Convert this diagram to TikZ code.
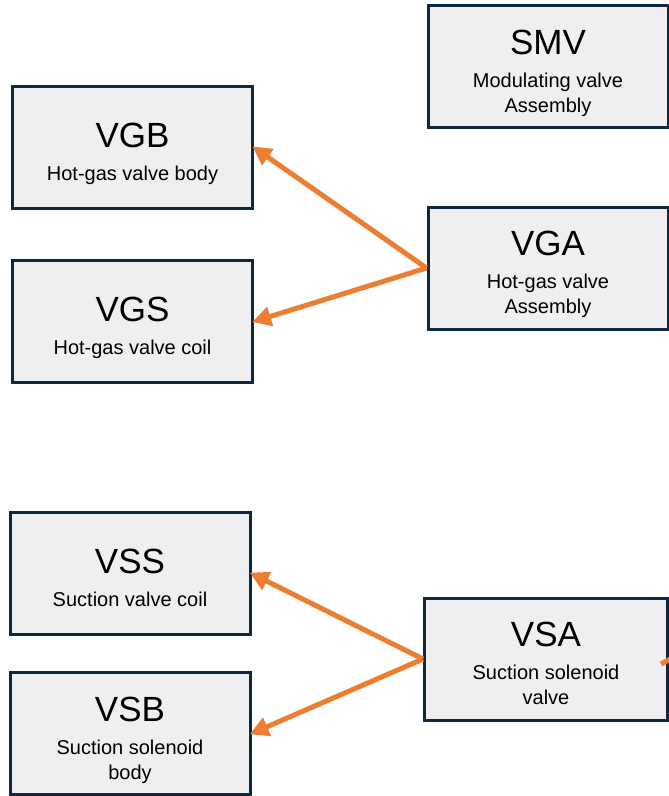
\documentclass[tikz,border=0pt]{standalone}
\usepackage{fontspec}
\setmainfont{Liberation Sans}
\usetikzlibrary{arrows.meta}
\definecolor{boxline}{HTML}{0F2740}
\definecolor{boxfill}{HTML}{EFEFEF}
\definecolor{arrowc}{HTML}{ED7D31}
\tikzset{
  box/.style={draw=boxline, fill=boxfill, line width=3pt, minimum width=240pt, minimum height=122pt, inner sep=0pt},
  lbl/.style={align=center, inner sep=0pt, text depth=5pt, font=\fontsize{20}{25}\selectfont},
  conn/.style={draw=arrowc, line width=5pt, -{Triangle[length=19pt,width=19pt]}, shorten >=-2pt},
  stub/.style={draw=arrowc, line width=5pt}
}
\newcommand{\ttl}[1]{{\fontsize{35}{38}\selectfont #1}\\[8pt]}
\begin{document}
\begin{tikzpicture}[x=1pt,y=-1pt]
\useasboundingbox (0,0) rectangle (669,796);
\node[box] (SMV) at (548,66.5) {};
\node[box] (VGB) at (132.5,147.5) {};
\node[box] (VGA) at (548,268) {};
\node[box] (VGS) at (132.5,321.5) {};
\node[box] (VSS) at (130,573.5) {};
\node[box, minimum width=243pt] (VSA) at (546,659) {};
\node[box] (VSB) at (130,733.5) {};
\node[lbl] (SMVt) at ([yshift=-7pt]SMV.center) {\ttl{SMV}Modulating valve\\Assembly};
\node[lbl] (VGBt) at ([yshift=-7pt]VGB.center) {\ttl{VGB}Hot-gas valve body};
\node[lbl] (VGAt) at ([yshift=-7pt]VGA.center) {\ttl{VGA}Hot-gas valve\\Assembly};
\node[lbl] (VGSt) at ([yshift=-7pt]VGS.center) {\ttl{VGS}Hot-gas valve coil};
\node[lbl] (VSSt) at ([yshift=-7pt]VSS.center) {\ttl{VSS}Suction valve coil};
\node[lbl] (VSAt) at ([yshift=-7pt]VSA.center) {\ttl{VSA}Suction solenoid\\valve};
\node[lbl] (VSBt) at ([yshift=-7pt]VSB.center) {\ttl{VSB}Suction solenoid\\body};
\draw[conn] (VGA.west) -- (VGB.east);
\draw[conn] (VGA.west) -- (VGS.east);
\draw[conn] (VSA.west) -- (VSS.east);
\draw[conn] (VSA.west) -- (VSB.east);
\coordinate (stubend) at (676,656);
\begin{scope}
\clip (0,0) rectangle (669,796);
\draw[stub] ([xshift=-8pt,yshift=-5pt]VSA.east) -- (stubend);
\end{scope}
\end{tikzpicture}
\end{document}
